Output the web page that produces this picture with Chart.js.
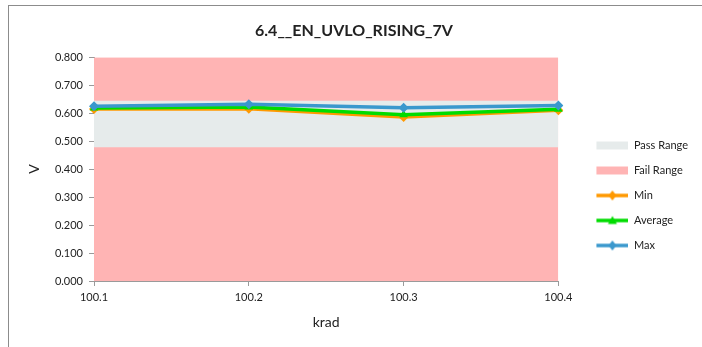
<!DOCTYPE html>
<html>
<head>
<meta charset="utf-8">
<script src="https://cdn.jsdelivr.net/npm/chart.js@4"></script>
<style>
  html, body { margin: 0; padding: 0; background: #fff; }
  #wrap { position: relative; width: 702px; height: 347px; }
  #frame { position: absolute; left: 8px; top: 5px; right: 0; bottom: 0;
           border-top: 1px solid #8c8c8c; border-left: 1px solid #8c8c8c; }
  #chart { position: absolute; left: 0; top: 0; }
</style>
</head>
<body>
<div id="wrap">
  <div id="frame"></div>
  <canvas id="chart" width="702" height="347"></canvas>
</div>
<script>
let xLabels = ['100.1', '100.2', '100.3', '100.4'];

let minVals = [0.615, 0.616, 0.586, 0.610];
let avgVals = [0.618, 0.622, 0.594, 0.614];
let maxVals = [0.625, 0.632, 0.619, 0.627];

let passLow = 0.478;
let passHigh = [0.644, 0.644, 0.644, 0.644];
let failTop = [0.800, 0.800, 0.800, 0.800];

let seriesColors = {
    pass: 'rgb(230, 235, 235)',
    fail: 'rgb(255, 180, 180)',
    min: 'rgb(255, 153, 0)',
    avg: 'rgb(0, 220, 0)',
    max: 'rgb(58, 152, 205)'
};

const fontFamily = 'Lato, "Open Sans", sans-serif';

// small canvases used as legend icons
function boxIcon(color) {
    const c = document.createElement('canvas');
    c.width = 56; c.height = 10;
    const ctx = c.getContext('2d');
    ctx.fillStyle = color;
    ctx.fillRect(24, 1, 32, 8);
    return c;
}

function lineIcon(color, marker) {
    const c = document.createElement('canvas');
    c.width = 56; c.height = 12;
    const ctx = c.getContext('2d');
    ctx.strokeStyle = color;
    ctx.lineWidth = 3.5;
    ctx.beginPath();
    ctx.moveTo(24, 6);
    ctx.lineTo(56, 6);
    ctx.stroke();
    ctx.fillStyle = color;
    ctx.beginPath();
    if (marker === 'triangle') {
        ctx.moveTo(40, 1.5);
        ctx.lineTo(44.5, 9.5);
        ctx.lineTo(35.5, 9.5);
    } else {
        ctx.moveTo(40, 1);
        ctx.lineTo(44, 6);
        ctx.lineTo(40, 11);
        ctx.lineTo(36, 6);
    }
    ctx.closePath();
    ctx.fill();
    return c;
}

const legendIcons = [
    boxIcon(seriesColors.pass),
    boxIcon(seriesColors.fail),
    lineIcon(seriesColors.min, 'diamond'),
    lineIcon(seriesColors.avg, 'triangle'),
    lineIcon(seriesColors.max, 'diamond')
];

const legendShift = {
    id: 'legendShift',
    afterLayout(chart) {
        chart.legend.top += 28;
        chart.legend.bottom += 28;
    }
};

const data = {
    labels: xLabels,
    datasets: [{
        label: 'Pass Range',
        data: passHigh,
        fill: { value: passLow },
        backgroundColor: seriesColors.pass,
        borderWidth: 0,
        pointRadius: 0,
        order: 4
    }, {
        label: 'Fail Range',
        data: failTop,
        fill: 'origin',
        backgroundColor: seriesColors.fail,
        borderWidth: 0,
        pointRadius: 0,
        order: 5
    }, {
        label: 'Min',
        data: minVals,
        borderColor: seriesColors.min,
        backgroundColor: seriesColors.min,
        borderWidth: 3.5,
        pointStyle: 'rectRot',
        pointRadius: 5,
        pointBorderWidth: 0,
        fill: false,
        order: 3
    }, {
        label: 'Average',
        data: avgVals,
        borderColor: seriesColors.avg,
        backgroundColor: seriesColors.avg,
        borderWidth: 3.5,
        pointStyle: 'triangle',
        pointRadius: 5,
        pointBorderWidth: 0,
        fill: false,
        order: 2
    }, {
        label: 'Max',
        data: maxVals,
        borderColor: seriesColors.max,
        backgroundColor: seriesColors.max,
        borderWidth: 3.5,
        pointStyle: 'rectRot',
        pointRadius: 5,
        pointBorderWidth: 0,
        fill: false,
        order: 1
    }]
};

const config = {
    type: 'line',
    data: data,
    plugins: [legendShift],
    options: {
        responsive: false,
        animation: false,
        layout: {
            padding: { left: 10, right: 4, top: 0, bottom: 12 }
        },
        plugins: {
            filler: { drawTime: 'beforeDatasetsDraw' },
            tooltip: { enabled: false },
            title: {
                display: true,
                text: '6.4__EN_UVLO_RISING_7V',
                color: '#222',
                font: { family: fontFamily, size: 16, weight: 'bold' },
                padding: { top: 21, bottom: 17 }
            },
            legend: {
                position: 'right',
                labels: {
                    usePointStyle: true,
                    pointStyleWidth: 56,
                    padding: 14,
                    color: '#222',
                    font: { family: fontFamily, size: 11 },
                    sort: (a, b) => a.datasetIndex - b.datasetIndex,
                    generateLabels: (chart) => {
                        const items = Chart.defaults.plugins.legend.labels.generateLabels(chart);
                        items.forEach(item => {
                            item.pointStyle = legendIcons[item.datasetIndex];
                        });
                        return items;
                    }
                }
            }
        },
        scales: {
            x: {
                offset: false,
                afterFit: (scale) => { scale.height = 54; },
                border: { color: '#9a9a9a' },
                grid: { display: true, drawOnChartArea: false, tickLength: 5, color: '#9a9a9a' },
                ticks: { color: '#222', padding: 5, maxRotation: 0, font: { family: fontFamily, size: 11 } },
                title: {
                    display: true,
                    text: 'krad',
                    color: '#222',
                    font: { family: fontFamily, size: 14 }
                }
            },
            y: {
                min: 0,
                max: 0.8,
                afterFit: (scale) => { scale.width = 84; },
                border: { color: '#9a9a9a' },
                grid: { display: true, drawOnChartArea: false, tickLength: 5, color: '#9a9a9a' },
                ticks: {
                    stepSize: 0.1,
                    color: '#222',
                    padding: 6,
                    font: { family: fontFamily, size: 11 },
                    callback: (v) => Number(v).toFixed(3)
                },
                title: {
                    display: true,
                    text: 'V',
                    color: '#222',
                    padding: { top: 16, bottom: 4 },
                    font: { family: fontFamily, size: 14 }
                }
            }
        }
    }
};

const chart = new Chart(document.getElementById('chart'), config);
</script>
</body>
</html>
